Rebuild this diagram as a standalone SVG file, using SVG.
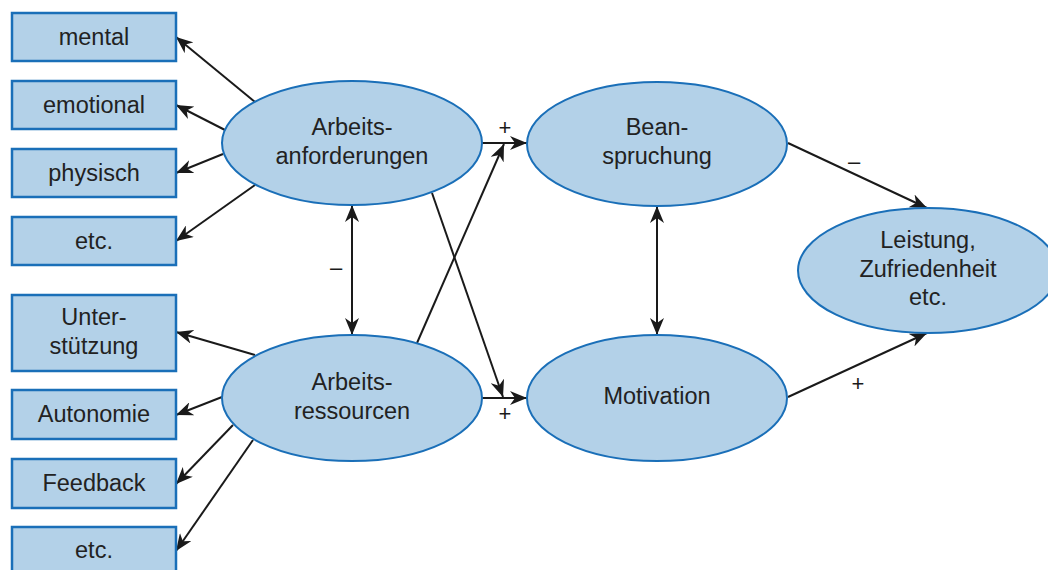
<svg xmlns="http://www.w3.org/2000/svg" width="1048" height="570" viewBox="0 0 1048 570">
<defs>
<style>
.box{fill:#b3d1e8;stroke:#1a6fb8;stroke-width:2.5}
.ell{fill:#b3d1e8;stroke:#1a6fb8;stroke-width:2}
.t{font-family:"Liberation Sans",Arial,sans-serif;font-size:23.5px;fill:#222;text-anchor:middle}
.s{font-family:"Liberation Sans",Arial,sans-serif;font-size:22px;fill:#1a1a1a;text-anchor:middle}
.c{stroke:#1a1a1a;stroke-width:2;fill:none;marker-end:url(#ah)}
.d{stroke:#1a1a1a;stroke-width:2;fill:none;marker-end:url(#ah);marker-start:url(#ah)}
</style>
<marker id="ah" viewBox="0 0 17 14" refX="17" refY="7" markerWidth="17" markerHeight="14" markerUnits="userSpaceOnUse" orient="auto-start-reverse">
<path d="M0,0 L17,7 L0,14 L5,7 z" fill="#1a1a1a"/>
</marker>
</defs>
<rect width="1048" height="570" fill="#fff"/>
<g id="connectors">
<line class="c" x1="255" y1="102" x2="176" y2="37"/>
<line class="c" x1="225" y1="130" x2="176" y2="105"/>
<line class="c" x1="223" y1="154" x2="176" y2="173"/>
<line class="c" x1="255" y1="185" x2="176" y2="241"/>
<line class="c" x1="255" y1="355" x2="176" y2="332"/>
<line class="c" x1="222" y1="397" x2="176" y2="415"/>
<line class="c" x1="233" y1="425" x2="176" y2="484"/>
<line class="c" x1="253" y1="440" x2="176" y2="551"/>
<line class="d" x1="352" y1="205" x2="352" y2="335"/>
<line class="d" x1="657" y1="206" x2="657" y2="335"/>
<line class="c" x1="482" y1="143" x2="527" y2="143"/>
<line class="c" x1="482" y1="398" x2="527" y2="398"/>
<line class="c" x1="417" y1="343" x2="504" y2="144"/>
<line class="c" x1="432" y1="193" x2="503" y2="397"/>
<line class="c" x1="788" y1="143" x2="927" y2="208"/>
<line class="c" x1="788" y1="397" x2="927" y2="333"/>
<text class="s" x="505" y="135">+</text>
<text class="s" x="505" y="421">+</text>
<text class="s" x="336" y="275">–</text>
<text class="s" x="854" y="169">–</text>
<text class="s" x="858" y="391">+</text>
</g>
<g id="n-mental"><rect class="box" x="12" y="13" width="164" height="48"/><text class="t" x="94" y="45">mental</text></g>
<g id="n-emotional"><rect class="box" x="12" y="81" width="164" height="48"/><text class="t" x="94" y="113">emotional</text></g>
<g id="n-physisch"><rect class="box" x="12" y="149" width="164" height="48"/><text class="t" x="94" y="181">physisch</text></g>
<g id="n-etc1"><rect class="box" x="12" y="217" width="164" height="48"/><text class="t" x="94" y="249">etc.</text></g>
<g id="n-unterstuetzung"><rect class="box" x="12" y="295" width="164" height="76"/><text class="t" x="94" y="325">Unter-</text><text class="t" x="94" y="354">stützung</text></g>
<g id="n-autonomie"><rect class="box" x="12" y="390" width="164" height="49"/><text class="t" x="94" y="422">Autonomie</text></g>
<g id="n-feedback"><rect class="box" x="12" y="459" width="164" height="49"/><text class="t" x="94" y="491">Feedback</text></g>
<g id="n-etc2"><rect class="box" x="12" y="527" width="164" height="50"/><text class="t" x="94" y="558">etc.</text></g>
<g id="n-anforderungen"><ellipse class="ell" cx="352" cy="143" rx="130" ry="62"/><text class="t" x="352" y="135">Arbeits-</text><text class="t" x="352" y="164">anforderungen</text></g>
<g id="n-ressourcen"><ellipse class="ell" cx="352" cy="398" rx="130" ry="63"/><text class="t" x="352" y="390">Arbeits-</text><text class="t" x="352" y="419">ressourcen</text></g>
<g id="n-beanspruchung"><ellipse class="ell" cx="657" cy="144" rx="130" ry="62"/><text class="t" x="657" y="135">Bean-</text><text class="t" x="657" y="164">spruchung</text></g>
<g id="n-motivation"><ellipse class="ell" cx="657" cy="398" rx="130" ry="63"/><text class="t" x="657" y="404">Motivation</text></g>
<g id="n-leistung"><ellipse class="ell" cx="928" cy="270.5" rx="130" ry="62.5"/><text class="t" x="928" y="248">Leistung,</text><text class="t" x="928" y="277">Zufriedenheit</text><text class="t" x="928" y="305">etc.</text></g>
</svg>
